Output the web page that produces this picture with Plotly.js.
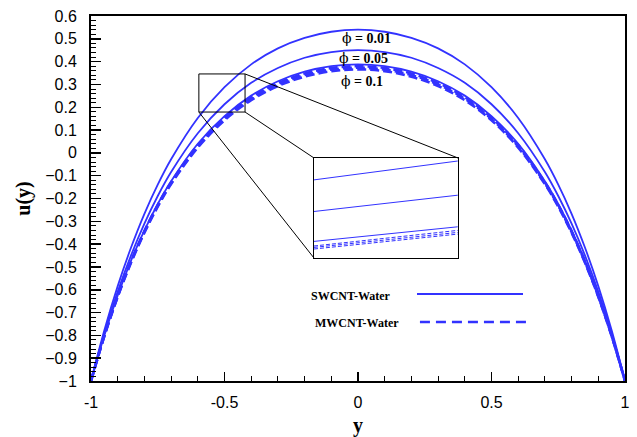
<!DOCTYPE html>
<html><head><meta charset="utf-8">
<script src="https://cdn.plot.ly/plotly-3.0.1.min.js"></script>
<style>html,body{margin:0;padding:0;background:#fff}#chart{width:637px;height:437px}</style>
</head><body><div id="chart"></div>
<script>
// y positions (channel coordinate)
const yPos = [-1,-0.95,-0.9,-0.85,-0.8,-0.75,-0.7,-0.6,-0.5,-0.4,-0.3,-0.2,-0.1,0,0.1,0.2,0.3,0.4,0.5,0.6,0.7,0.75,0.8,0.85,0.9,0.95,1];
// SWCNT-Water velocity profiles
const swPhi001 = [-1,-0.778,-0.584,-0.415,-0.267,-0.139,-0.028,0.153,0.288,0.388,0.458,0.504,0.531,0.540,0.531,0.504,0.458,0.388,0.288,0.153,-0.028,-0.139,-0.267,-0.415,-0.584,-0.778,-1];
const swPhi005 = [-1,-0.791,-0.608,-0.449,-0.310,-0.189,-0.084,0.086,0.213,0.307,0.372,0.417,0.442,0.450,0.442,0.417,0.372,0.307,0.213,0.086,-0.084,-0.189,-0.310,-0.449,-0.608,-0.791,-1];
const swPhi01  = [-1,-0.800,-0.625,-0.472,-0.340,-0.224,-0.124,0.040,0.161,0.251,0.314,0.356,0.380,0.388,0.380,0.356,0.314,0.251,0.161,0.040,-0.124,-0.224,-0.340,-0.472,-0.625,-0.800,-1];
// MWCNT-Water velocity profiles
const mwPhi001 = [-1,-0.801,-0.627,-0.475,-0.343,-0.228,-0.129,0.034,0.154,0.244,0.306,0.348,0.372,0.380,0.372,0.348,0.306,0.244,0.154,0.034,-0.129,-0.228,-0.343,-0.475,-0.627,-0.801,-1];
const mwPhi005 = [-1,-0.802,-0.629,-0.478,-0.347,-0.232,-0.133,0.028,0.149,0.237,0.300,0.341,0.365,0.373,0.365,0.341,0.300,0.237,0.149,0.028,-0.133,-0.232,-0.347,-0.478,-0.629,-0.802,-1];
const mwPhi01  = [-1,-0.803,-0.631,-0.481,-0.350,-0.236,-0.137,0.023,0.143,0.231,0.293,0.334,0.358,0.366,0.358,0.334,0.293,0.231,0.143,0.023,-0.137,-0.236,-0.350,-0.481,-0.631,-0.803,-1];
// Inset (zoomed) segment end values, relative inset units [left,right]
const insetX = [0, 1];
const insetSW = [[0.781,0.970],[0.465,0.628],[0.166,0.312]];
const insetMW = [[0.120,0.276],[0.106,0.256],[0.090,0.239]];
const phiValues = ['0.01','0.05','0.1'];
const legendNames = ['SWCNT-Water','MWCNT-Water'];

const blue = '#3232ff';
const traces = [];
[swPhi001, swPhi005, swPhi01].forEach(v => traces.push({x:yPos, y:v, mode:'lines', line:{color:blue, width:1.8, shape:'spline', smoothing:1}, showlegend:false, hoverinfo:'skip'}));
[mwPhi001, mwPhi005, mwPhi01].forEach(v => traces.push({x:yPos, y:v, mode:'lines', line:{color:blue, width:2.6, dash:'9px,4px', shape:'spline', smoothing:1}, showlegend:false, hoverinfo:'skip'}));
insetSW.forEach(v => traces.push({x:insetX, y:v, xaxis:'x2', yaxis:'y2', mode:'lines', line:{color:blue, width:1}, showlegend:false, hoverinfo:'skip'}));
insetMW.forEach(v => traces.push({x:insetX, y:v, xaxis:'x2', yaxis:'y2', mode:'lines', line:{color:blue, width:1, dash:'4px,2px'}, showlegend:false, hoverinfo:'skip'}));

const serif = 'Liberation Serif, Times New Roman, serif';
const sans = 'Liberation Sans, Arial, sans-serif';
function ann(px, py, text, size) {
  return {xref:'paper', yref:'paper', x:(px-91)/534, y:(381-py)/365, xanchor:'center', yanchor:'middle',
          text:text, showarrow:false, font:{family:serif, size:size, color:'#000'}};
}
const phiText = v => '<span style="font-family:DejaVu Serif">ϕ</span> <b>= ' + v + '</b>';
const layout = {
  width:637, height:437,
  margin:{l:91, r:12, t:16, b:56},
  paper_bgcolor:'#fff', plot_bgcolor:'#fff',
  xaxis:{range:[-1,1], tickvals:[-1,-0.5,0,0.5,1], ticktext:['-1','-0.5','0','0.5','1'],
    ticks:'inside', ticklen:9, tickwidth:1.5, tickcolor:'#000', ticklabelstandoff:6,
    minor:{dtick:0.1, ticks:'inside', ticklen:5, tickwidth:1, tickcolor:'#000'},
    showline:true, linewidth:2, linecolor:'#000', mirror:true, showgrid:false, zeroline:false,
    tickfont:{family:sans, size:16, color:'#000'},
    title:{text:'<b>y</b>', font:{family:serif, size:20, color:'#000'}, standoff:14}},
  yaxis:{range:[-1,0.6], dtick:0.1, tick0:0, tickformat:'.1~f',
    ticks:'inside', ticklen:10, tickwidth:1.5, tickcolor:'#000', ticklabelstandoff:9,
    minor:{dtick:0.02, ticks:'inside', ticklen:5, tickwidth:1, tickcolor:'#000'},
    showline:true, linewidth:2, linecolor:'#000', mirror:true, showgrid:false, zeroline:false,
    tickfont:{family:sans, size:16, color:'#000'},
    title:{text:'<b>u(y)</b>', font:{family:serif, size:20, color:'#000'}, standoff:9}},
  xaxis2:{domain:[0.4176,0.687], range:[0,1], anchor:'y2', showline:true, mirror:true, linewidth:1.2, linecolor:'#000', showticklabels:false, ticks:'', showgrid:false, zeroline:false},
  yaxis2:{domain:[0.337,0.611], range:[0,1], anchor:'x2', showline:true, mirror:true, linewidth:1.2, linecolor:'#000', showticklabels:false, ticks:'', showgrid:false, zeroline:false},
  shapes:[
    {type:'rect', xref:'x', yref:'y', x0:-0.596, x1:-0.423, y0:0.179, y1:0.346, line:{color:'#000', width:1}},
    {type:'line', xref:'x', yref:'y', x0:-0.423, y0:0.346, x1:0.3745, y1:-0.0225, line:{color:'#000', width:1}},
    {type:'line', xref:'x', yref:'y', x0:-0.423, y0:0.179, x1:-0.1648, y1:-0.0225, line:{color:'#000', width:1}},
    {type:'line', xref:'x', yref:'y', x0:-0.596, y0:0.179, x1:-0.1648, y1:-0.461, line:{color:'#000', width:1}},
    {type:'line', xref:'paper', yref:'paper', x0:0.6105, x1:0.809, y0:0.2384, y1:0.2384, line:{color:blue, width:1.8}},
    {type:'line', xref:'paper', yref:'paper', x0:0.616, x1:0.8165, y0:0.1616, y1:0.1616, line:{color:blue, width:2.4, dash:'10px,6px'}}
  ],
  annotations:[
    ann(366, 38, phiText(phiValues[0]), 14),
    ann(363, 58, phiText(phiValues[1]), 14),
    ann(362, 81, phiText(phiValues[2]), 14),
    ann(351, 296, '<b>'+legendNames[0]+'</b>', 12),
    ann(357, 323, '<b>'+legendNames[1]+'</b>', 12)
  ]
};
Plotly.newPlot('chart', traces, layout, {staticPlot:true, displayModeBar:false});
</script></body></html>
